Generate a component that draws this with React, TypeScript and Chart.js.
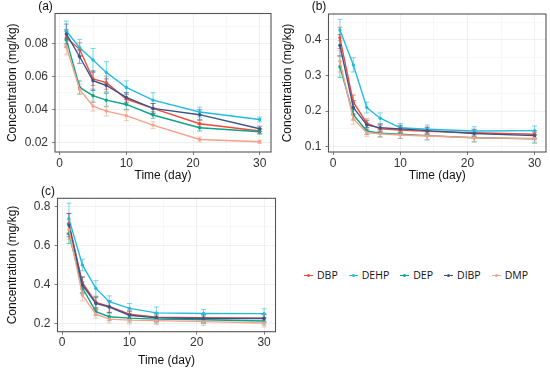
import React, { useEffect, useRef } from "react";
import { Chart, registerables } from "chart.js";
Chart.register(...registerables);

const days = [1, 3, 5, 7, 10, 14, 21, 30];
const seriesNames = ["DBP", "DEHP", "DEP", "DIBP", "DMP"];
const seriesColors = ["#EE4C39", "#22BCE0", "#0EA388", "#3C5488", "#F7A088"];

// Panel (a)
const aDBP = [0.0834, 0.0764, 0.0584, 0.0562, 0.0463, 0.0406, 0.0313, 0.0269];
const aDEHP = [0.0875, 0.0774, 0.0699, 0.0624, 0.0533, 0.0456, 0.0384, 0.0339];
const aDEP = [0.0824, 0.0533, 0.0483, 0.0456, 0.043, 0.0366, 0.0289, 0.0265];
const aDIBP = [0.0857, 0.0719, 0.0574, 0.0545, 0.0473, 0.0406, 0.0368, 0.0283];
const aDMP = [0.078, 0.0521, 0.042, 0.039, 0.0362, 0.0305, 0.0218, 0.0204];
const aDBPErr = [0.005, 0.004, 0.004, 0.004, 0.003, 0.003, 0.002, 0.0015];
const aDEHPErr = [0.006, 0.005, 0.007, 0.0065, 0.004, 0.0045, 0.003, 0.0015];
const aDEPErr = [0.005, 0.004, 0.004, 0.004, 0.003, 0.002, 0.002, 0.0015];
const aDIBPErr = [0.006, 0.004, 0.006, 0.004, 0.003, 0.003, 0.003, 0.0015];
const aDMPErr = [0.005, 0.003, 0.003, 0.003, 0.003, 0.002, 0.0015, 0.001];

// Panel (b)
const bDBP = [0.406, 0.225, 0.166, 0.15, 0.147, 0.143, 0.139, 0.135];
const bDEHP = [0.428, 0.33, 0.21, 0.18, 0.153, 0.149, 0.144, 0.145];
const bDEP = [0.325, 0.19, 0.144, 0.138, 0.135, 0.131, 0.125, 0.122];
const bDIBP = [0.385, 0.21, 0.161, 0.153, 0.15, 0.145, 0.137, 0.131];
const bDMP = [0.34, 0.178, 0.139, 0.136, 0.133, 0.13, 0.125, 0.123];
const bDBPErr = [0.03, 0.02, 0.012, 0.01, 0.01, 0.01, 0.01, 0.01];
const bDEHPErr = [0.03, 0.02, 0.015, 0.015, 0.012, 0.012, 0.012, 0.013];
const bDEPErr = [0.03, 0.015, 0.01, 0.01, 0.012, 0.012, 0.012, 0.012];
const bDIBPErr = [0.03, 0.02, 0.012, 0.01, 0.01, 0.01, 0.01, 0.01];
const bDMPErr = [0.03, 0.015, 0.01, 0.01, 0.01, 0.01, 0.01, 0.01];

// Panel (c)
const cDBP = [0.715, 0.411, 0.311, 0.29, 0.25, 0.235, 0.232, 0.23];
const cDEHP = [0.738, 0.502, 0.382, 0.314, 0.28, 0.257, 0.254, 0.253];
const cDEP = [0.662, 0.385, 0.263, 0.237, 0.23, 0.225, 0.222, 0.215];
const cDIBP = [0.706, 0.4, 0.305, 0.287, 0.245, 0.232, 0.228, 0.228];
const cDMP = [0.683, 0.348, 0.25, 0.225, 0.22, 0.217, 0.212, 0.205];
const cDBPErr = [0.05, 0.03, 0.03, 0.03, 0.02, 0.02, 0.02, 0.02];
const cDEHPErr = [0.08, 0.03, 0.04, 0.03, 0.025, 0.03, 0.02, 0.025];
const cDEPErr = [0.05, 0.03, 0.02, 0.02, 0.02, 0.02, 0.02, 0.02];
const cDIBPErr = [0.06, 0.04, 0.03, 0.03, 0.02, 0.02, 0.02, 0.02];
const cDMPErr = [0.05, 0.03, 0.02, 0.02, 0.02, 0.02, 0.02, 0.02];

const xMajorTicks = [0, 10, 20, 30];
const xMinorTicks = [5, 15, 25];
const aMajorTicks = [0.02, 0.04, 0.06, 0.08];
const aMinorTicks = [0.03, 0.05, 0.07, 0.09];
const bMajorTicks = [0.1, 0.2, 0.3, 0.4];
const bMinorTicks = [0.15, 0.25, 0.35, 0.45];
const cMajorTicks = [0.2, 0.4, 0.6, 0.8];
const cMinorTicks = [0.3, 0.5, 0.7];

const xTitle = "Time (day)";
const yTitle = "Concentration (mg/kg)";

type Panel = {
  label: string;
  left: number; top: number; w: number; h: number;
  plot: { l: number; t: number; r: number; b: number };
  yMin: number; yMax: number; xMin: number; xMax: number;
  major: number[]; minor: number[]; dec: number;
  values: number[][]; errors: number[][];
};

const panels: Panel[] = [
  {
    label: "(a)", left: 0, top: 0, w: 275, h: 183,
    plot: { l: 55, t: 13.5, r: 272, b: 152 },
    yMin: 0.0142, yMax: 0.0981, xMin: -0.7, xMax: 31.7,
    major: aMajorTicks, minor: aMinorTicks, dec: 2,
    values: [aDBP, aDEHP, aDEP, aDIBP, aDMP],
    errors: [aDBPErr, aDEHPErr, aDEPErr, aDIBPErr, aDMPErr],
  },
  {
    label: "(b)", left: 275, top: 0, w: 275, h: 183,
    plot: { l: 53.5, t: 14, r: 272.5, b: 152 },
    yMin: 0.085, yMax: 0.4731, xMin: -0.7, xMax: 31.7,
    major: bMajorTicks, minor: bMinorTicks, dec: 1,
    values: [bDBP, bDEHP, bDEP, bDIBP, bDMP],
    errors: [bDBPErr, bDEHPErr, bDEPErr, bDIBPErr, bDMPErr],
  },
  {
    label: "(c)", left: 0, top: 183, w: 280, h: 185,
    plot: { l: 57.5, t: 15.3, r: 275.5, b: 148.7 },
    yMin: 0.1606, yMax: 0.843, xMin: -0.7, xMax: 31.7,
    major: cMajorTicks, minor: cMinorTicks, dec: 1,
    values: [cDBP, cDEHP, cDEP, cDIBP, cDMP],
    errors: [cDBPErr, cDEHPErr, cDEPErr, cDIBPErr, cDMPErr],
  },
];

function withAlpha(hex: string, a: number) {
  const n = parseInt(hex.slice(1), 16);
  return `rgba(${(n >> 16) & 255},${(n >> 8) & 255},${n & 255},${a})`;
}

const errorBarPlugin = {
  id: "errorBars",
  beforeDatasetsDraw(chart: any) {
    const ctx = chart.ctx;
    const yScale = chart.scales.y;
    chart.data.datasets.forEach((ds: any, di: number) => {
      const meta = chart.getDatasetMeta(di);
      ctx.save();
      ctx.strokeStyle = withAlpha(ds.borderColor, 0.6);
      ctx.lineWidth = 1;
      meta.data.forEach((pt: any, i: number) => {
        const v = ds.data[i].y;
        const e = ds.errors[i];
        const x = pt.x;
        const y1 = yScale.getPixelForValue(v + e);
        const y2 = yScale.getPixelForValue(v - e);
        ctx.beginPath();
        ctx.moveTo(x, y1); ctx.lineTo(x, y2);
        ctx.moveTo(x - 2.5, y1); ctx.lineTo(x + 2.5, y1);
        ctx.moveTo(x - 2.5, y2); ctx.lineTo(x + 2.5, y2);
        ctx.stroke();
      });
      ctx.restore();
    });
  },
};

const framePlugin = {
  id: "frame",
  afterDatasetsDraw(chart: any, _args: any, opts: any) {
    const { ctx, chartArea } = chart;
    ctx.save();
    ctx.strokeStyle = "#555555";
    ctx.lineWidth = 1.1;
    ctx.strokeRect(chartArea.left, chartArea.top, chartArea.right - chartArea.left, chartArea.bottom - chartArea.top);
    ctx.fillStyle = "#111111";
    ctx.font = "12px 'Liberation Sans', Arial, sans-serif";
    ctx.textAlign = "center";
    ctx.textBaseline = "middle";
    ctx.fillText(opts.text, chartArea.left - 9.5, chartArea.top - 7);
    ctx.restore();
  },
};

function PanelChart({ p }: { p: Panel }) {
  const ref = useRef<HTMLCanvasElement>(null);
  useEffect(() => {
    if (!ref.current) return;
    const tickFont = { family: "'Liberation Sans', Arial, sans-serif", size: 12 };
    const mkTicks = (major: number[], minor: number[]) =>
      [...major.map((v) => ({ value: v, minorTick: false })), ...minor.map((v) => ({ value: v, minorTick: true }))].sort(
        (a, b) => a.value - b.value
      );
    const gridColor = (c: any) => (c.tick && c.tick.minorTick ? "#f3f3f3" : "#e9e9e9");
    const tickColor = (c: any) => (c.tick && c.tick.minorTick ? "rgba(0,0,0,0)" : "#444444");
    const chart = new Chart(ref.current, {
      type: "line",
      data: {
        datasets: seriesNames.map((name, si) => ({
          label: name,
          data: days.map((d, i) => ({ x: d, y: p.values[si][i] })),
          errors: p.errors[si],
          borderColor: seriesColors[si],
          backgroundColor: seriesColors[si],
          borderWidth: 1.4,
          pointRadius: 1.7,
          pointBorderWidth: 0,
          pointBackgroundColor: seriesColors[si],
          tension: 0,
          order: -si,
        })) as any,
      },
      options: {
        responsive: false,
        animation: false,
        events: [],
        layout: { padding: { top: p.plot.t, right: p.w - p.plot.r, left: 0, bottom: 0 } },
        plugins: {
          legend: { display: false },
          tooltip: { enabled: false },
          frame: { text: p.label },
        } as any,
        scales: {
          x: {
            type: "linear",
            min: p.xMin,
            max: p.xMax,
            afterBuildTicks: (s: any) => { s.ticks = mkTicks(xMajorTicks, xMinorTicks); },
            afterFit: (s: any) => { s.height = p.h - p.plot.b; },
            ticks: {
              autoSkip: false, maxRotation: 0, padding: 1, color: "#333333", font: tickFont,
              callback: (v: any, i: number, ticks: any[]) => (ticks[i].minorTick ? "" : String(Math.round(Number(v)))),
            },
            grid: { color: gridColor, lineWidth: 0.7, tickColor, tickLength: 3, drawTicks: true },
            border: { display: false },
            title: { display: true, text: xTitle, color: "#111111", font: tickFont, padding: 0 },
          },
          y: {
            type: "linear",
            min: p.yMin,
            max: p.yMax,
            afterBuildTicks: (s: any) => { s.ticks = mkTicks(p.major, p.minor); },
            afterFit: (s: any) => { s.width = p.plot.l; },
            ticks: {
              autoSkip: false, padding: 4, color: "#333333", font: tickFont,
              callback: (v: any, i: number, ticks: any[]) => (ticks[i].minorTick ? "" : Number(v).toFixed(p.dec)),
            },
            grid: { color: gridColor, lineWidth: 0.7, tickColor, tickLength: 3, drawTicks: true },
            border: { display: false },
            title: { display: true, text: yTitle, color: "#111111", font: tickFont, padding: { top: 5, bottom: 0 } },
          },
        },
      } as any,
      plugins: [errorBarPlugin, framePlugin],
    });
    return () => chart.destroy();
  }, [p]);
  return (
    <canvas
      ref={ref}
      width={p.w}
      height={p.h}
      style={{ position: "absolute", left: p.left, top: p.top, width: p.w, height: p.h }}
    />
  );
}

function Legend() {
  return (
    <div
      style={{
        position: "absolute",
        left: 304,
        top: 268,
        display: "flex",
        alignItems: "center",
        fontFamily: "'Open Sans', Lato, sans-serif",
        fontSize: 10.5,
        color: "#111",
        whiteSpace: "nowrap",
      }}
    >
      {seriesNames.map((n, i) => (
        <div key={n} style={{ display: "flex", alignItems: "center", marginRight: 11 }}>
          <span style={{ position: "relative", display: "inline-block", width: 9, height: 14, marginRight: 4 }}>
            <span style={{ position: "absolute", left: 0, top: 6.5, width: 9, height: 1.3, background: seriesColors[i] }} />
            <span
              style={{
                position: "absolute", left: 3, top: 5.5, width: 3, height: 3, borderRadius: 2, background: seriesColors[i],
              }}
            />
          </span>
          <span>{n}</span>
        </div>
      ))}
    </div>
  );
}

export default function App() {
  return (
    <div style={{ position: "absolute", left: 0, top: 0, width: 550, height: 368, background: "#fff", overflow: "hidden" }}>
      {panels.map((p) => (
        <PanelChart key={p.label} p={p} />
      ))}
      <Legend />
    </div>
  );
}
